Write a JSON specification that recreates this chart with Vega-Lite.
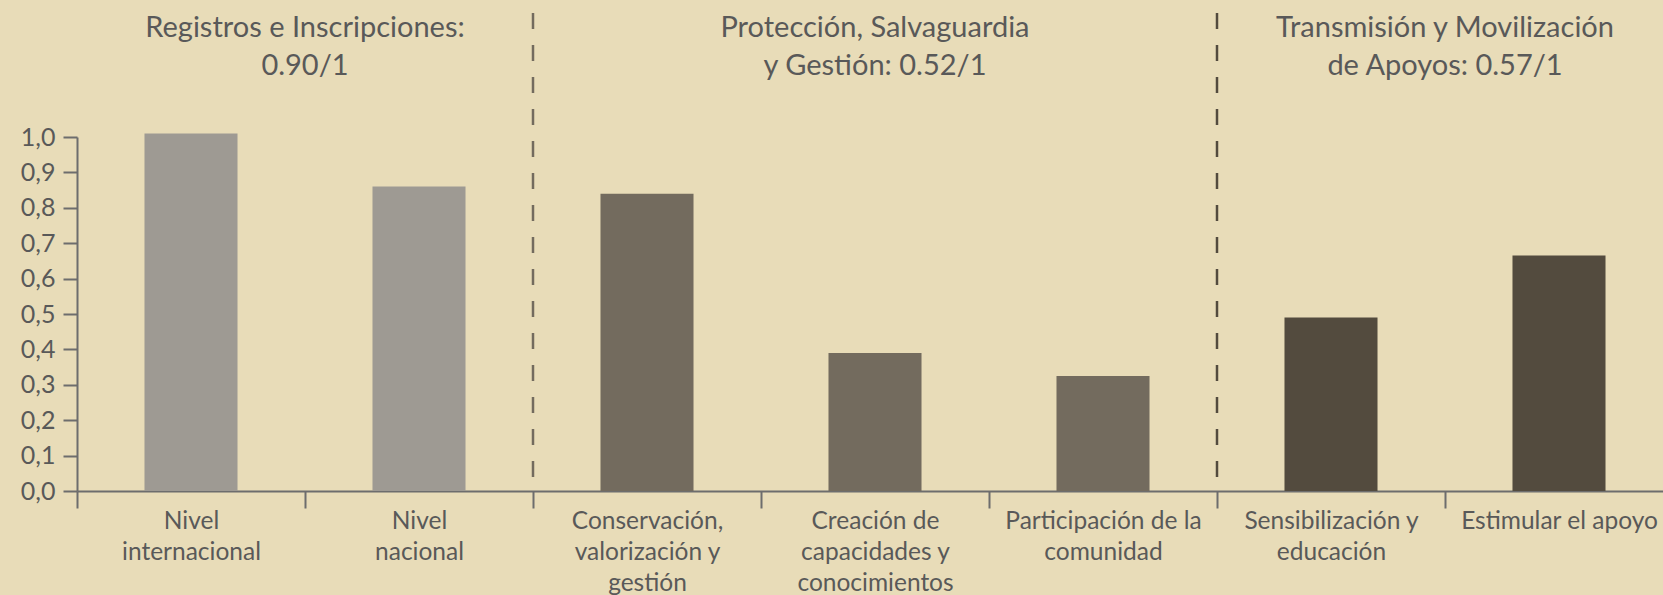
{
  "$schema": "https://vega.github.io/schema/vega-lite/v6.json",
  "autosize": "none",
  "width": 1586,
  "height": 354,
  "padding": {"left": 77, "top": 137, "right": 0, "bottom": 104},
  "background": "#E8DCB8",
  "config": {
    "view": {"stroke": null},
    "font": "Lato",
    "axis": {"domainColor": "#6D6D6D", "domainWidth": 2, "tickColor": "#6D6D6D", "tickWidth": 2, "labelColor": "#595959", "grid": false, "title": null}
  },
  "datasets": {
    "barras": [
      {"categoria": "Nivel internacional", "grupo": "Registros e Inscripciones", "valor": 1.01},
      {"categoria": "Nivel nacional", "grupo": "Registros e Inscripciones", "valor": 0.86},
      {"categoria": "Conservación, valorización y gestión", "grupo": "Protección, Salvaguardia y Gestión", "valor": 0.84},
      {"categoria": "Creación de capacidades y conocimientos", "grupo": "Protección, Salvaguardia y Gestión", "valor": 0.39},
      {"categoria": "Participación de la comunidad", "grupo": "Protección, Salvaguardia y Gestión", "valor": 0.325},
      {"categoria": "Sensibilización y educación", "grupo": "Transmisión y Movilización de Apoyos", "valor": 0.49},
      {"categoria": "Estimular el apoyo", "grupo": "Transmisión y Movilización de Apoyos", "valor": 0.665}
    ],
    "separadores": [
      {"categoria": "Conservación, valorización y gestión", "grupo": "Protección, Salvaguardia y Gestión"},
      {"categoria": "Sensibilización y educación", "grupo": "Transmisión y Movilización de Apoyos"}
    ],
    "titulosBorde": [
      {"categoria": "Nivel nacional", "titulo": "Registros e Inscripciones:\n0.90/1"},
      {"categoria": "Estimular el apoyo", "titulo": "Transmisión y Movilización\nde Apoyos: 0.57/1"}
    ],
    "titulosCentro": [
      {"categoria": "Creación de capacidades y conocimientos", "titulo": "Protección, Salvaguardia\ny Gestión: 0.52/1"}
    ]
  },
  "layer": [
    {
      "data": {"name": "barras"},
      "mark": {"type": "bar", "width": {"band": 0.408}},
      "encoding": {
        "x": {
          "field": "categoria",
          "type": "nominal",
          "sort": null,
          "scale": {
            "domain": ["Nivel internacional", "Nivel nacional", "Conservación, valorización y gestión", "Creación de capacidades y conocimientos", "Participación de la comunidad", "Sensibilización y educación", "Estimular el apoyo"],
            "range": [0, 1596],
            "paddingInner": 0,
            "paddingOuter": 0
          },
          "axis": {
            "tickBand": "extent",
            "tickSize": 17,
            "labelAngle": 0,
            "labelFontSize": 24.5,
            "labelLineHeight": 31,
            "labelPadding": 1,
            "labelLimit": 400,
            "labelOverlap": false,
            "labelBaseline": "top",
            "labelExpr": "datum.label == 'Nivel internacional' ? ['Nivel', 'internacional'] : datum.label == 'Nivel nacional' ? ['Nivel', 'nacional'] : datum.label == 'Conservación, valorización y gestión' ? ['Conservación,', 'valorización y', 'gestión'] : datum.label == 'Creación de capacidades y conocimientos' ? ['Creación de', 'capacidades y', 'conocimientos'] : datum.label == 'Participación de la comunidad' ? ['Participación de la', 'comunidad'] : datum.label == 'Sensibilización y educación' ? ['Sensibilización y', 'educación'] : datum.label"
          }
        },
        "y": {
          "field": "valor",
          "type": "quantitative",
          "scale": {"domain": [0, 1], "nice": false},
          "axis": {
            "values": [0, 0.1, 0.2, 0.3, 0.4, 0.5, 0.6, 0.7, 0.8, 0.9, 1],
            "tickCount": 20,
            "tickSize": 14,
            "labelPadding": 8,
            "labelFontSize": 25,
            "labelOverlap": false,
            "labelSeparation": 0,
            "labelExpr": "replace(format(datum.value, '.1f'), '.', ',')"
          }
        },
        "color": {
          "field": "grupo",
          "type": "nominal",
          "scale": {
            "domain": ["Registros e Inscripciones", "Protección, Salvaguardia y Gestión", "Transmisión y Movilización de Apoyos"],
            "range": ["#9E9A93", "#736B5E", "#534B3E"]
          },
          "legend": null
        }
      }
    },
    {
      "data": {"name": "separadores"},
      "mark": {"type": "rule", "strokeWidth": 2.5, "strokeDash": [16, 16]},
      "encoding": {
        "x": {"field": "categoria", "type": "nominal", "bandPosition": 0},
        "y": {"datum": 1.35},
        "y2": {"datum": 0},
        "color": {"field": "grupo", "type": "nominal", "legend": null}
      }
    },
    {
      "data": {"name": "titulosBorde"},
      "mark": {"type": "text", "fontSize": 29, "color": "#595959", "align": "center", "baseline": "alphabetic", "lineBreak": "\n", "lineHeight": 38},
      "encoding": {
        "x": {"field": "categoria", "type": "nominal", "bandPosition": 0},
        "y": {"datum": 1.283},
        "text": {"field": "titulo"}
      }
    },
    {
      "data": {"name": "titulosCentro"},
      "mark": {"type": "text", "fontSize": 29, "color": "#595959", "align": "center", "baseline": "alphabetic", "lineBreak": "\n", "lineHeight": 38},
      "encoding": {
        "x": {"field": "categoria", "type": "nominal", "bandPosition": 0.5},
        "y": {"datum": 1.283},
        "text": {"field": "titulo"}
      }
    }
  ]
}
